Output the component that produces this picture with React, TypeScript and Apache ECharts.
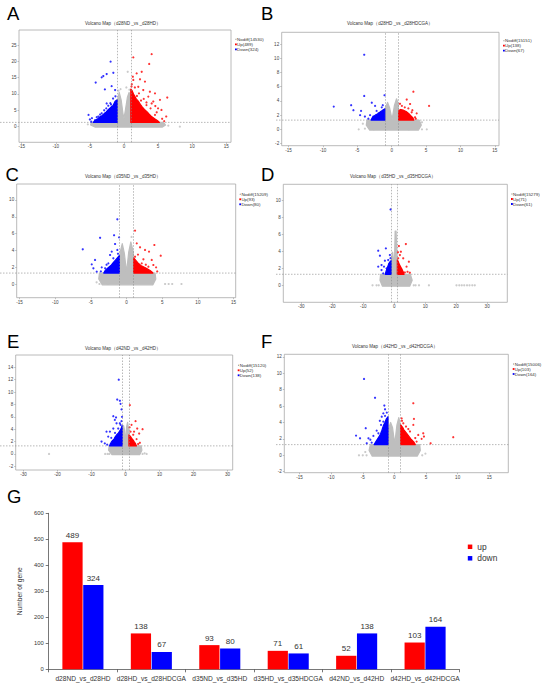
import React, { useEffect, useRef } from "react";
import * as echarts from "echarts";

type P = [number, number];

// ---------- shared data ----------
const panelLetters = ["A", "B", "C", "D", "E", "F", "G"];
const comparisonTitles = [
  "d28ND _vs _d28HD",
  "d28HD _vs _d28HDCGA",
  "d35ND _vs _d35HD",
  "d35HD _vs _d35HDCGA",
  "d42ND _vs _d42HD",
  "d42HD _vs _d42HDCGA",
];
const nodiffCounts = [14530, 15151, 15209, 15279, 15120, 15006];
const upCounts = [489, 138, 93, 71, 52, 103];
const downCounts = [324, 67, 80, 61, 138, 164];
const foldChangeThresholds = [-1, 1];
const pThreshold = 1.3; // -log10(0.05)

// ---------- bar chart (G) ----------
const barCategories = [
  "d28ND_vs_d28HD",
  "d28HD_vs_d28HDCGA",
  "d35ND_vs_d35HD",
  "d35HD_vs_d35HDCGA",
  "d42ND_vs_d42HD",
  "d42HD_vs_d42HDCGA",
];
const barUpValues = [489, 138, 93, 71, 52, 103];
const barDownValues = [324, 67, 80, 61, 138, 164];
const barSeriesNames = ["up", "down"];

// ---------- panel A ----------
const aXRange = [-15.4, 15.7];
const aYRange = [-4.8, 29.6];
const aXTicks = [-15, -10, -5, 0, 5, 10, 15];
const aYTicks = [0, 5, 10, 15, 20, 25];
const aGreyCloud: P[] = [[-4.2, -0.15], [5.6, -0.15], [6.1, 0.5], [5.8, 1.3], [1.0, 1.3], [0.95, 8.5], [0.75, 10.5], [0.5, 9.0], [0.2, 5.0], [0.0, 2.5], [-0.15, 4.0], [-0.4, 8.0], [-0.7, 10.5], [-0.95, 8.0], [-1.0, 1.3], [-4.8, 1.3], [-4.9, 0.5]];
const aGreyPoints: P[] = [[8.2, 0], [0.55, 16.8], [0.35, 12.0], [-0.5, 11.5], [-5.3, 0.7], [6.5, 0.3], [-0.8, 11.0], [0.8, 11.3]];
const aDownCore: P[] = [[-1.0, 1.3], [-1.0, 8.2], [-1.3, 7.8], [-1.6, 6.5], [-1.8, 6.2], [-2.1, 5.6], [-2.4, 5.0], [-2.6, 4.5], [-2.9, 4.0], [-3.2, 3.4], [-3.5, 3.0], [-3.8, 2.5], [-4.3, 1.8], [-4.5, 1.3]];
const aDownPoints: P[] = [[-1.96, 19.9], [-1.56, 16.5], [-2.54, 16.1], [-3.03, 15.5], [-3.27, 15.1], [-4.15, 13.5], [-1.81, 12.4], [-2.8, 11.4], [-1.3, 11.2], [-2.54, 7.1], [-5.2, 3.6], [-4.7, 2.6], [-4.25, 2.0], [-3.76, 3.1], [-3.27, 4.1], [-2.9, 5.0], [-2.3, 6.4], [-1.6, 8.6], [-1.25, 9.3], [-2.0, 7.2], [-4.8, 1.5], [-3.5, 3.7], [-2.6, 5.6], [-1.9, 6.8], [-5.0, 2.2], [-4.0, 2.9]];
const aUpCore: P[] = [[1.0, 1.3], [1.0, 11.5], [1.2, 11.0], [1.4, 10.0], [1.8, 8.5], [2.1, 7.8], [2.4, 6.8], [2.7, 6.0], [3.0, 5.3], [3.4, 4.5], [3.7, 3.8], [4.1, 3.0], [4.5, 2.4], [5.0, 1.7], [5.2, 1.3]];
const aUpPoints: P[] = [[4.06, 22.2], [3.7, 19.2], [1.37, 21.2], [1.86, 16.3], [2.6, 16.8], [2.35, 14.5], [1.37, 14.3], [3.08, 13.8], [2.1, 12.2], [2.83, 11.2], [3.8, 10.7], [4.55, 10.2], [6.35, 8.9], [5.28, 8.2], [4.3, 7.7], [3.57, 9.2], [5.0, 5.6], [5.5, 5.1], [6.2, 3.1], [4.55, 3.6], [3.3, 6.6], [4.06, 7.1], [1.15, 13.0], [1.6, 12.0], [2.2, 10.2], [2.9, 8.5], [1.3, 15.3], [1.9, 9.4], [2.5, 8.0], [3.3, 7.4], [4.8, 4.4], [5.6, 2.4], [5.9, 1.7], [1.1, 12.3], [3.9, 5.6], [4.6, 6.3]];

// ---------- panel B ----------
const bXRange = [-16.0, 15.6];
const bYRange = [-2.3, 13.66];
const bXTicks = [-15, -10, -5, 0, 5, 10, 15];
const bYTicks = [-2, 0, 2, 4, 6, 8, 10, 12];
const bGreyCloud: P[] = [[-3.2, -0.1], [3.9, -0.1], [4.3, 0.6], [4.0, 1.3], [1.0, 1.3], [0.95, 3.6], [0.7, 4.3], [0.4, 3.4], [0.05, 1.4], [-0.3, 3.0], [-0.6, 3.8], [-0.9, 3.1], [-1.0, 1.3], [-3.6, 1.3], [-3.7, 0.6]];
const bGreyPoints: P[] = [[-4.8, 0], [-3.9, 0.1], [4.4, 0], [5.1, 0], [4.4, 1.0], [-4.2, 0.8], [-2.6, 0], [2.5, 0]];
const bDownCore: P[] = [[-1.0, 1.3], [-1.0, 2.9], [-1.3, 2.7], [-1.6, 2.5], [-2.0, 2.2], [-2.4, 2.0], [-2.8, 1.7], [-3.0, 1.3]];
const bDownPoints: P[] = [[-4.0, 10.5], [-4.0, 4.7], [-1.05, 4.8], [-8.43, 3.2], [-5.9, 3.4], [-5.57, 2.7], [-4.46, 2.6], [-2.9, 3.75], [-2.42, 3.3], [-1.45, 3.1], [-4.6, 2.0], [-3.9, 1.8], [-3.15, 2.0], [-1.94, 2.25], [-1.2, 2.7], [-1.7, 1.55], [-2.66, 1.8], [-3.4, 1.5], [-2.2, 2.6], [-1.3, 3.4]];
const bUpCore: P[] = [[1.0, 1.3], [1.0, 2.6], [1.3, 2.8], [1.7, 2.7], [2.1, 2.5], [2.5, 2.2], [2.8, 1.9], [3.1, 1.6], [3.2, 1.3]];
const bUpPoints: P[] = [[3.15, 5.3], [5.43, 3.3], [2.18, 4.2], [1.48, 3.3], [2.67, 3.57], [3.0, 2.7], [3.63, 2.25], [3.39, 1.7], [2.42, 2.95], [1.24, 2.7], [1.9, 3.1], [3.5, 1.5], [2.9, 2.4], [1.2, 3.6]];

// ---------- panel C ----------
const cXRange = [-15.4, 15.3];
const cYRange = [-1.63, 11.9];
const cXTicks = [-15, -10, -5, 0, 5, 10, 15];
const cYTicks = [0, 2, 4, 6, 8, 10];
const cGreyCloud: P[] = [[-3.4, -0.1], [3.7, -0.1], [4.1, 0.6], [4.0, 1.3], [1.0, 1.3], [0.95, 3.8], [0.6, 5.0], [0.3, 3.8], [0.0, 1.4], [-0.3, 3.6], [-0.6, 4.8], [-0.9, 3.8], [-1.0, 1.3], [-3.8, 1.3], [-3.9, 0.6]];
const cGreyPoints: P[] = [[5.4, 0], [5.9, 0], [6.4, 0], [7.7, 0], [-3.8, 0], [-4.2, 0.2], [-2.6, 0], [0.7, 5.6]];
const cDownCore: P[] = [[-1.0, 1.3], [-1.0, 3.4], [-1.2, 3.2], [-1.5, 2.9], [-1.9, 2.5], [-2.2, 2.2], [-2.5, 2.0], [-3.0, 1.6], [-3.2, 1.3]];
const cDownPoints: P[] = [[-6.14, 4.13], [-3.71, 5.5], [-1.29, 7.7], [-1.05, 5.55], [-1.75, 5.8], [-1.61, 4.76], [-4.42, 2.86], [-4.88, 2.34], [-4.65, 1.87], [-4.18, 1.47], [-3.48, 1.98], [-2.31, 3.45], [-1.85, 3.06], [-1.29, 4.05], [-2.08, 3.85], [-2.55, 2.46], [-3.0, 1.87], [-1.2, 3.6], [-2.8, 2.3], [-3.6, 1.5]];
const cUpCore: P[] = [[1.0, 1.3], [1.0, 3.1], [1.3, 2.8], [1.6, 2.5], [2.0, 2.2], [2.5, 2.0], [2.9, 1.8], [3.3, 1.6], [3.6, 1.4], [3.7, 1.3]];
const cUpPoints: P[] = [[1.19, 6.35], [1.43, 4.84], [1.89, 4.37], [2.59, 4.05], [3.15, 3.85], [3.9, 4.64], [4.79, 3.37], [3.53, 2.86], [2.36, 2.94], [3.76, 2.26], [4.14, 1.98], [1.19, 3.25], [3.06, 2.06], [2.13, 2.46], [1.6, 3.5], [2.7, 2.3], [4.3, 1.5]];

// ---------- panel D ----------
const dXRange = [-35.8, 36.5];
const dYRange = [-2.0, 11.9];
const dXTicks = [-30, -20, -10, 0, 10, 20, 30];
const dYTicks = [0, 2, 4, 6, 8, 10];
const dGreyCloud: P[] = [[-3.8, -0.1], [5.0, -0.1], [5.8, 0.6], [5.2, 1.3], [1.0, 1.3], [0.9, 3.2], [0.6, 6.4], [0.3, 6.4], [0.1, 3.0], [-0.1, 2.6], [-0.5, 3.9], [-0.9, 3.1], [-1.0, 1.3], [-4.4, 1.3], [-4.6, 0.6]];
const dGreyPoints: P[] = [[-5.7, 0], [-5.0, 0], [6.3, 0], [6.9, 0], [11.2, 0], [20.1, 0], [21.0, 0], [21.8, 0], [22.6, 0], [23.5, 0], [24.3, 0], [25.2, 0], [26.0, 0], [-7.0, 0], [8.0, 0]];
const dDownCore: P[] = [[-1.0, 1.3], [-1.0, 2.9], [-1.3, 2.8], [-1.7, 2.6], [-2.1, 2.2], [-2.6, 1.7], [-2.9, 1.3]];
const dDownPoints: P[] = [[-1.18, 8.94], [-2.69, 4.35], [-5.16, 4.08], [-4.62, 3.49], [-3.01, 2.9], [-4.09, 2.39], [-1.4, 3.57], [-5.16, 2.2], [-4.09, 1.8], [-3.55, 1.41], [-2.47, 2.0], [-1.94, 2.98], [-1.2, 3.2], [-3.3, 2.2]];
const dUpCore: P[] = [[1.0, 1.3], [1.0, 3.0], [1.3, 2.8], [1.6, 2.5], [2.2, 2.1], [2.6, 1.8], [2.9, 1.6], [3.2, 1.3]];
const dUpPoints: P[] = [[3.76, 4.86], [1.51, 4.63], [2.15, 3.96], [1.29, 3.18], [2.9, 3.18], [4.73, 2.78], [3.98, 2.2], [2.37, 1.88], [5.05, 1.49], [3.44, 1.53], [1.83, 3.57], [1.2, 3.9], [4.3, 1.6]];

// ---------- panel E ----------
const eXRange = [-32.3, 31.5];
const eYRange = [-2.6, 16.0];
const eXTicks = [-30, -20, -10, 0, 10, 20, 30];
const eYTicks = [-2, 0, 2, 4, 6, 8, 10, 12, 14];
const eGreyCloud: P[] = [[-4.0, -0.1], [4.2, -0.1], [4.8, 0.6], [4.6, 1.3], [1.0, 1.3], [0.95, 3.8], [0.6, 5.1], [0.3, 4.4], [0.0, 1.6], [-0.3, 3.9], [-0.6, 4.6], [-0.9, 3.7], [-1.0, 1.3], [-4.8, 1.3], [-5.0, 0.6]];
const eGreyPoints: P[] = [[-22.5, 0], [-5.3, 0], [-4.8, 0], [5.0, 0], [5.6, 0.1], [-6.0, 0], [6.2, 0]];
const eDownCore: P[] = [[-1.0, 1.3], [-1.0, 4.6], [-1.3, 4.1], [-1.6, 3.8], [-2.2, 3.3], [-2.6, 3.1], [-3.0, 2.8], [-3.4, 2.4], [-3.8, 2.2], [-4.2, 1.9], [-4.5, 1.6], [-4.7, 1.3]];
const eDownPoints: P[] = [[-2.0, 12.0], [-2.45, 8.8], [-1.67, 8.6], [-1.47, 8.1], [-1.18, 7.2], [-3.6, 6.1], [-3.15, 5.5], [-2.8, 5.9], [-1.05, 6.0], [-2.65, 4.95], [-1.68, 4.95], [-3.6, 4.1], [-4.6, 3.6], [-5.6, 3.6], [-5.1, 2.8], [-7.06, 2.0], [-6.1, 1.7], [-2.16, 4.1], [-1.47, 4.7], [-1.2, 5.3], [-4.2, 2.6], [-5.4, 1.5], [-3.1, 3.4]];
const eUpCore: P[] = [[1.0, 1.3], [1.0, 3.1], [1.3, 2.9], [1.6, 2.7], [2.0, 2.4], [2.3, 2.2], [2.6, 1.9], [2.9, 1.7], [3.2, 1.3]];
const eUpPoints: P[] = [[1.27, 7.9], [2.94, 5.3], [1.76, 4.7], [3.43, 4.1], [5.0, 4.0], [4.0, 3.3], [2.25, 3.1], [1.47, 3.6], [3.24, 2.4], [4.2, 1.8], [2.75, 1.45], [1.2, 4.3], [3.7, 1.6], [2.5, 3.6]];

// ---------- panel F ----------
const fXRange = [-17.4, 18.0];
const fYRange = [-2.12, 12.3];
const fXTicks = [-15, -10, -5, 0, 5, 10, 15];
const fYTicks = [-2, 0, 2, 4, 6, 8, 10, 12];
const fGreyCloud: P[] = [[-3.5, -0.1], [3.6, -0.1], [4.1, 0.6], [4.0, 1.3], [1.0, 1.3], [0.95, 3.7], [0.7, 4.6], [0.4, 3.7], [0.05, 1.4], [-0.3, 3.4], [-0.6, 4.0], [-0.9, 3.3], [-1.0, 1.3], [-3.8, 1.3], [-4.0, 0.6]];
const fGreyPoints: P[] = [[-5.0, 0], [-4.4, 0], [4.4, 0], [-4.6, 0.4], [-5.6, 0], [4.9, 0.2]];
const fDownCore: P[] = [[-1.0, 1.3], [-1.0, 4.7], [-1.3, 4.4], [-1.5, 4.0], [-1.7, 3.7], [-2.0, 3.0], [-2.2, 2.6], [-2.4, 2.3], [-2.9, 1.7], [-3.2, 1.3]];
const fDownPoints: P[] = [[-4.8, 9.3], [-3.06, 7.0], [-1.59, 6.06], [-1.48, 5.6], [-2.0, 4.7], [-1.75, 5.1], [-4.53, 3.3], [-6.06, 2.4], [-5.43, 2.07], [-4.1, 2.07], [-3.32, 2.36], [-2.53, 2.68], [-4.37, 1.46], [-3.59, 1.54], [-2.11, 3.7], [-1.75, 4.1], [-1.48, 4.8], [-1.2, 5.2], [-2.8, 3.0], [-3.8, 1.9], [-2.3, 4.2]];
const fUpCore: P[] = [[1.0, 1.3], [1.0, 3.7], [1.3, 3.4], [1.5, 3.1], [2.0, 2.6], [2.3, 2.3], [2.6, 2.0], [3.1, 1.6], [3.3, 1.3]];
const fUpPoints: P[] = [[2.99, 6.34], [3.09, 4.43], [2.99, 3.7], [1.15, 4.5], [1.83, 3.5], [2.46, 2.9], [3.77, 2.48], [4.56, 2.68], [4.67, 2.28], [4.3, 2.0], [5.72, 1.46], [9.3, 2.2], [3.51, 1.67], [1.41, 3.9], [1.2, 4.2], [2.2, 3.2], [3.3, 2.1]];

const panels = [
  { xr: aXRange, yr: aYRange, xt: aXTicks, yt: aYTicks, cloud: aGreyCloud, grey: aGreyPoints, downCore: aDownCore, down: aDownPoints, upCore: aUpCore, up: aUpPoints },
  { xr: bXRange, yr: bYRange, xt: bXTicks, yt: bYTicks, cloud: bGreyCloud, grey: bGreyPoints, downCore: bDownCore, down: bDownPoints, upCore: bUpCore, up: bUpPoints },
  { xr: cXRange, yr: cYRange, xt: cXTicks, yt: cYTicks, cloud: cGreyCloud, grey: cGreyPoints, downCore: cDownCore, down: cDownPoints, upCore: cUpCore, up: cUpPoints },
  { xr: dXRange, yr: dYRange, xt: dXTicks, yt: dYTicks, cloud: dGreyCloud, grey: dGreyPoints, downCore: dDownCore, down: dDownPoints, upCore: dUpCore, up: dUpPoints },
  { xr: eXRange, yr: eYRange, xt: eXTicks, yt: eYTicks, cloud: eGreyCloud, grey: eGreyPoints, downCore: eDownCore, down: eDownPoints, upCore: eUpCore, up: eUpPoints },
  { xr: fXRange, yr: fYRange, xt: fXTicks, yt: fYTicks, cloud: fGreyCloud, grey: fGreyPoints, downCore: fDownCore, down: fDownPoints, upCore: fUpCore, up: fUpPoints },
];

// ---------- layout (pixels) ----------
const boxes = [
  { left: 19, top: 30, width: 212, height: 112.3 },
  { left: 281.7, top: 32.3, width: 217.3, height: 113.4 },
  { left: 16.7, top: 184, width: 219, height: 113.7 },
  { left: 283.3, top: 184.3, width: 224, height: 118 },
  { left: 15.7, top: 355, width: 217, height: 115 },
  { left: 284.3, top: 354.3, width: 224, height: 118.4 },
];
const barBox = { left: 48.7, top: 513.3, width: 410.6, height: 156 };
const titlePos = [[123, 23], [390, 23.3], [123, 176], [393, 176], [123, 348.3], [395, 346]];
const letterPos = [[7, 13], [261, 13], [5.5, 174], [261, 174], [7, 341], [261, 341], [7, 496.5]];
const legendPos = [[235, 39.3], [503, 40.7], [239.3, 194.3], [511, 194], [237.7, 365.3], [512.7, 364]];
const lineStartX = [0, 276, 0, 276, 0, 276];

const FONT = "'Liberation Sans', Arial, Helvetica, sans-serif";
const RED = "#FF0000";
const BLUE = "#0000FF";
const GREY = "#BEBEBE";

function polygonSeries(id: string, gi: number, pts: P[], color: string, z: number) {
  return {
    type: "custom",
    id,
    name: id,
    xAxisIndex: gi,
    yAxisIndex: gi,
    z,
    silent: true,
    clip: true,
    data: pts,
    encode: { x: 0, y: 1 },
    renderItem: (params: any, api: any) => {
      if (params.dataIndex !== 0) return null;
      return {
        type: "polygon",
        shape: { points: pts.map((p) => api.coord(p)) },
        style: { fill: color, stroke: color, lineWidth: 1.2, lineJoin: "round" },
      };
    },
  };
}

function scatterSeries(name: string, gi: number, pts: P[], color: string, z: number) {
  return {
    type: "scatter",
    name,
    xAxisIndex: gi,
    yAxisIndex: gi,
    z,
    silent: true,
    data: pts,
    symbol: "circle",
    symbolSize: 2.2,
    itemStyle: { color },
  };
}

export default function App() {
  const ref = useRef<HTMLDivElement>(null);

  useEffect(() => {
    if (!ref.current) return;
    const chart = echarts.init(ref.current, null, { renderer: "svg" });

    const grids: any[] = [];
    const xAxes: any[] = [];
    const yAxes: any[] = [];
    const series: any[] = [];

    panels.forEach((p, i) => {
      grids.push({ ...boxes[i], show: true, borderColor: "#a8a8a8", borderWidth: 0.8, backgroundColor: "transparent", containLabel: false });
      const tickStyle = { color: "#999", width: 0.6 };
      xAxes.push({
        type: "value",
        gridIndex: i,
        min: p.xr[0],
        max: p.xr[1],
        axisLine: { show: false, onZero: false },
        splitLine: { show: false },
        axisTick: { show: true, customValues: p.xt, length: 1.5, lineStyle: tickStyle },
        axisLabel: { customValues: p.xt, fontSize: 4.6, color: "#444", margin: 2, fontFamily: FONT },
      });
      yAxes.push({
        type: "value",
        gridIndex: i,
        min: p.yr[0],
        max: p.yr[1],
        axisLine: { show: false, onZero: false },
        splitLine: { show: false },
        axisTick: { show: true, customValues: p.yt, length: 1.5, lineStyle: tickStyle },
        axisLabel: { customValues: p.yt, fontSize: 4.6, color: "#444", margin: 2.5, fontFamily: FONT },
      });
      series.push({
        type: "scatter",
        name: "threshold-" + i,
        xAxisIndex: i,
        yAxisIndex: i,
        data: [],
        z: 1,
        silent: true,
        markLine: {
          silent: true,
          symbol: "none",
          animation: false,
          label: { show: false },
          lineStyle: { color: "#888", width: 0.6, type: [1.5, 1.5] },
          data: foldChangeThresholds.map((v) => ({ xAxis: v })),
        },
      });
      series.push(polygonSeries("cloud-" + i, i, p.cloud, GREY, 2));
      series.push(scatterSeries("Nodiff(" + nodiffCounts[i] + ")", i, p.grey, GREY, 2));
      series.push(polygonSeries("downcore-" + i, i, p.downCore, BLUE, 3));
      series.push(scatterSeries("Down(" + downCounts[i] + ")", i, p.down, BLUE, 3));
      series.push(polygonSeries("upcore-" + i, i, p.upCore, RED, 3));
      series.push(scatterSeries("Up(" + upCounts[i] + ")", i, p.up, RED, 3));
    });

    // bar chart G
    const gi = panels.length;
    grids.push({ ...barBox, containLabel: false });
    xAxes.push({
      type: "category",
      gridIndex: gi,
      data: barCategories,
      axisLine: { lineStyle: { color: "#555", width: 0.8 } },
      axisTick: { show: true, length: 3, lineStyle: { color: "#555", width: 0.8 } },
      axisLabel: { interval: 0, fontSize: 6.6, color: "#333", margin: 6, fontFamily: FONT },
    });
    yAxes.push({
      type: "value",
      gridIndex: gi,
      min: 0,
      max: 600,
      interval: 100,
      name: "Number of gene",
      nameLocation: "middle",
      nameGap: 18,
      nameTextStyle: { fontSize: 6.7, color: "#333", fontFamily: FONT },
      axisLine: { show: true, lineStyle: { color: "#555", width: 0.8 } },
      axisTick: { show: true, length: 3, lineStyle: { color: "#555", width: 0.8 } },
      splitLine: { show: false },
      axisLabel: { fontSize: 5.8, color: "#333", margin: 5, fontFamily: FONT },
    });
    [barUpValues, barDownValues].forEach((vals, k) => {
      series.push({
        type: "bar",
        name: barSeriesNames[k],
        xAxisIndex: gi,
        yAxisIndex: gi,
        data: vals,
        barCategoryGap: "40%",
        barGap: "3%",
        itemStyle: { color: k === 0 ? RED : BLUE },
        label: { show: true, position: "top", distance: 3, fontSize: 8, color: "#333", fontFamily: FONT },
      });
    });

    chart.setOption({
      animation: false,
      textStyle: { fontFamily: FONT },
      grid: grids,
      xAxis: xAxes,
      yAxis: yAxes,
      series,
      legend: {
        data: barSeriesNames,
        orient: "vertical",
        left: 467.8,
        top: 542.8,
        padding: 0,
        itemWidth: 4.5,
        itemHeight: 4.5,
        itemGap: 3.5,
        icon: "rect",
        selectedMode: false,
        textStyle: { fontSize: 8.4, color: "#333", fontFamily: FONT },
      },
    });

    // graphics: letters, titles, legends, threshold line extension
    const graphics: any[] = [];
    letterPos.forEach((pos, i) => {
      graphics.push({
        type: "text",
        x: pos[0],
        y: pos[1],
        silent: true,
        style: { text: panelLetters[i], fontSize: 18.5, fontFamily: FONT, fill: "#000", verticalAlign: "middle", align: "left" },
      });
    });
    panels.forEach((p, i) => {
      graphics.push({
        type: "text",
        x: titlePos[i][0],
        y: titlePos[i][1],
        silent: true,
        style: { text: "Volcano Map（" + comparisonTitles[i] + "）", fontSize: 4.5, fontFamily: FONT, fill: "#333", align: "center", verticalAlign: "middle" },
      });
      const [lx, ly] = legendPos[i];
      const entries = [
        { label: "Nodiff(" + nodiffCounts[i] + ")", color: GREY, dot: true },
        { label: "Up(" + upCounts[i] + ")", color: RED, dot: false },
        { label: "Down(" + downCounts[i] + ")", color: BLUE, dot: false },
      ];
      entries.forEach((e, k) => {
        const cy = ly + k * 5;
        if (e.dot) {
          graphics.push({ type: "circle", silent: true, shape: { cx: lx + 0.9, cy, r: 0.6 }, style: { fill: "#999" } });
        } else {
          graphics.push({ type: "rect", silent: true, shape: { x: lx, y: cy - 0.9, width: 1.8, height: 1.8 }, style: { fill: e.color } });
        }
        graphics.push({
          type: "text",
          x: lx + 2.1,
          y: cy,
          silent: true,
          style: { text: e.label, fontSize: 4.4, fontFamily: FONT, fill: "#333", align: "left", verticalAlign: "middle" },
        });
      });
      const end = chart.convertToPixel({ gridIndex: i } as any, [p.xr[1], pThreshold]) as number[];
      if (end && isFinite(end[1])) {
        graphics.push({
          type: "line",
          silent: true,
          z: 1,
          shape: { x1: lineStartX[i], y1: end[1], x2: end[0], y2: end[1] },
          style: { stroke: "#888", lineWidth: 0.6, lineDash: [1.5, 1.5] },
        });
      }
    });
    chart.setOption({ graphic: graphics });

    return () => chart.dispose();
  }, []);

  return <div ref={ref} style={{ position: "absolute", left: 0, top: 0, width: 550, height: 690 }} />;
}
